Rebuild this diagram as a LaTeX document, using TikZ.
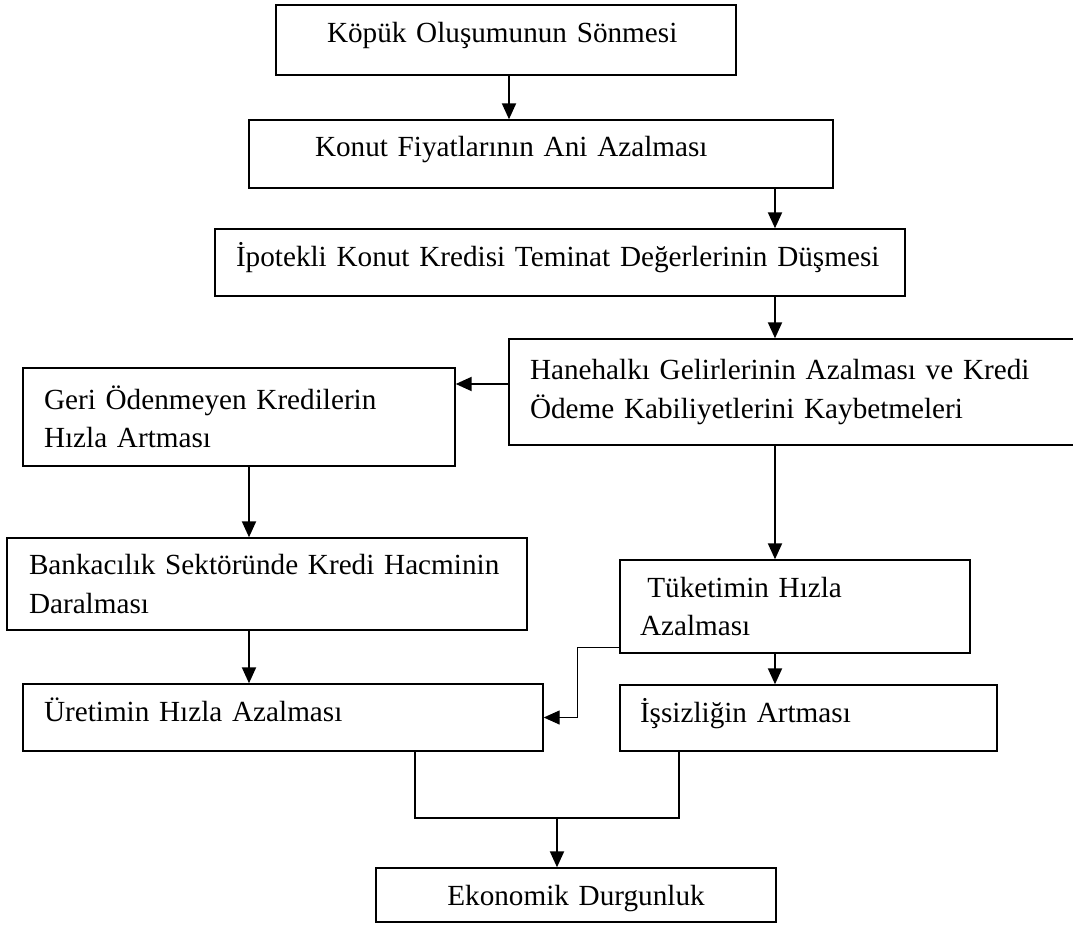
\documentclass[tikz,border=0pt]{standalone}
\usepackage{fontspec}
\setmainfont{Liberation Serif}
\usetikzlibrary{arrows.meta}

\begin{document}
\begin{tikzpicture}[x=1pt,y=-1pt,
    kutu/.style={draw,line width=1.4pt,align=left,inner ysep=0pt,font=\fontsize{29.2}{38.5}\selectfont},
    tek/.style={text height=20pt,text depth=#1},
    ok/.style={line width=2pt,-{Triangle[length=16pt,width=14pt]}},
    cizgi/.style={line width=1.4pt}]
        \useasboundingbox (0,0) rectangle (1073,925);
        \clip (0,0) rectangle (1073,925);
        % kutular
        \node[kutu,tek=14pt,minimum height=70pt,inner xsep=51pt,text width=358pt] (kopuk) at (506,40) {Köpük Oluşumunun Sönmesi};
        \node[kutu,tek=14pt,minimum height=68pt,inner xsep=66pt,text width=452pt] (fiyat) at (541,154) {Konut Fiyatlarının Ani Azalması};
        \node[kutu,tek=13pt,minimum height=67pt,inner xsep=21pt,text width=648pt] (teminat) at (560,262.5) {İpotekli Konut Kredisi Teminat Değerlerinin Düşmesi};
        \node[kutu,minimum height=106pt,inner xsep=21pt,text width=558pt] (gelir) at (809,392) {Hanehalkı Gelirlerinin Azalması ve Kredi\\Ödeme Kabiliyetlerini Kaybetmeleri};
        \node[kutu,minimum height=98pt,inner xsep=21pt,text width=390pt] (geri) at (239,417) {Geri Ödenmeyen Kredilerin\\Hızla Artması};
        \node[kutu,minimum height=92pt,inner xsep=22pt,text width=476pt] (banka) at (267,584) {Bankacılık Sektöründe Kredi Hacminin\\Daralması};
        \node[kutu,minimum height=93pt,inner xsep=20pt,text width=310pt] (tuketim) at (795,606.5) {\hspace*{0.25em}Tüketimin Hızla\\Azalması};
        \node[kutu,tek=12pt,minimum height=67pt,inner xsep=21pt,text width=478pt] (uretim) at (283,717.5) {Üretimin Hızla Azalması};
        \node[kutu,tek=12pt,minimum height=66pt,inner xsep=20pt,text width=337pt] (issizlik) at (808.5,718) {İşsizliğin Artması};
        \node[kutu,tek=0pt,minimum height=54pt,inner xsep=60pt,text width=280pt,align=center] (durgunluk) at (576,895) {Ekonomik Durgunluk};
        % yardimci noktalar
        \coordinate (eksen) at (775,0);
        \coordinate (solx) at (249,0);
        \coordinate (sol) at (415,818);
        \coordinate (sag) at (679,818);
        \coordinate (birles) at (557,818);
        % oklar
        \draw[ok] ([xshift=3pt]kopuk.south) -- ([xshift=3pt]kopuk.south |- fiyat.north);
        \draw[ok] (fiyat.south -| eksen) -- (teminat.north -| eksen);
        \draw[ok] (teminat.south -| eksen) -- (gelir.north -| eksen);
        \draw[ok] ([yshift=8pt]gelir.west) -- ([yshift=8pt]gelir.west -| geri.east);
        \draw[ok] (gelir.south -| eksen) -- (tuketim.north -| eksen);
        \draw[ok] (geri.south -| solx) -- (banka.north -| solx);
        \draw[ok] (banka.south -| solx) -- (uretim.north -| solx);
        \draw[ok] (tuketim.south -| eksen) -- (issizlik.north -| eksen);
        \draw[ok,line width=1.4pt] ([yshift=6pt]tuketim.south west) -| ([xshift=34pt]uretim.east) -- (uretim.east);
        \draw[cizgi] (uretim.south -| sol) -- (sol) -- (sag) -- (issizlik.south -| sag);
        \draw[ok] (birles) -- (birles |- durgunluk.north);
      \end{tikzpicture}
\end{document}
